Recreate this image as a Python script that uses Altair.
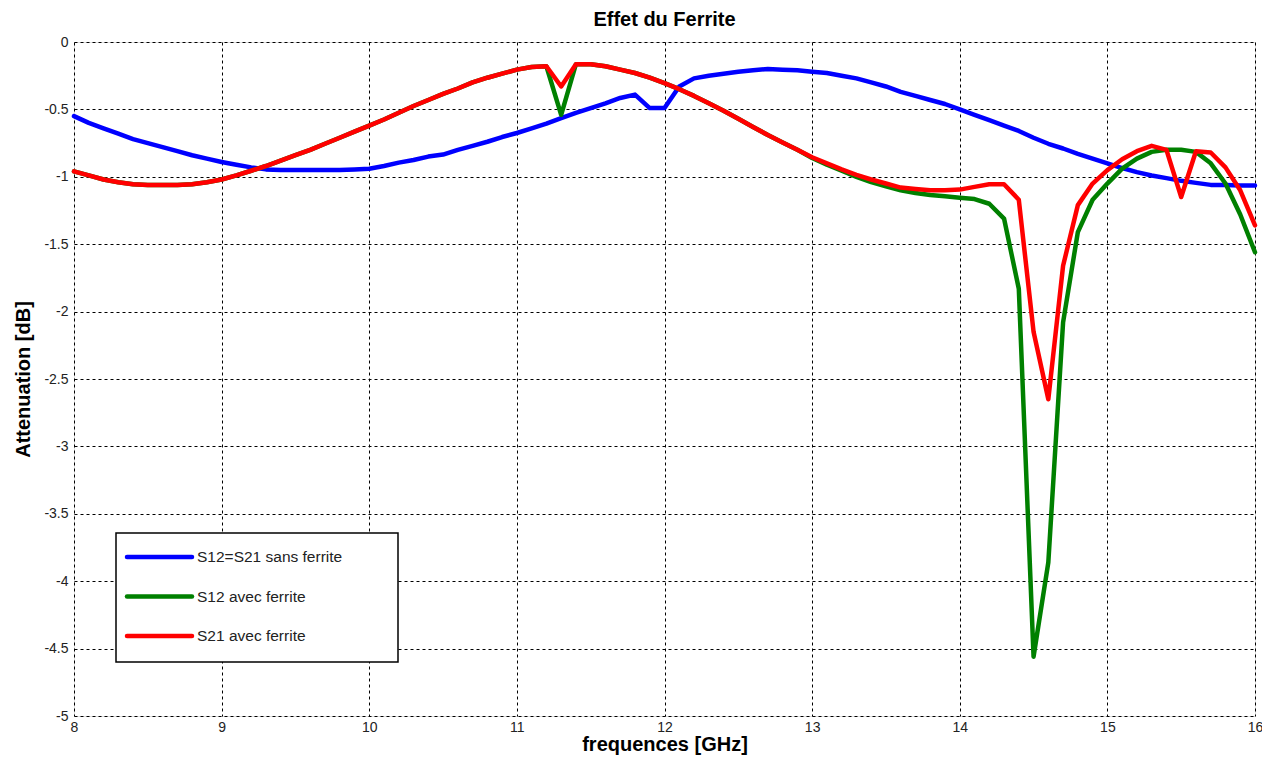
import altair as alt
import pandas as pd

freq = [round(8 + 0.1 * i, 1) for i in range(81)]

s_sans = [-0.55, -0.60, -0.64, -0.68, -0.72, -0.75, -0.78, -0.81, -0.84, -0.865,
          -0.89, -0.91, -0.93, -0.945, -0.95, -0.95, -0.95, -0.95, -0.95, -0.945,
          -0.94, -0.92, -0.895, -0.875, -0.85, -0.835, -0.80, -0.77, -0.74, -0.705,
          -0.675, -0.64, -0.605, -0.565, -0.525, -0.49, -0.455, -0.415, -0.39, -0.49,
          -0.49, -0.33, -0.27, -0.25, -0.235, -0.22, -0.21, -0.20, -0.205, -0.21,
          -0.22, -0.23, -0.25, -0.27, -0.30, -0.33, -0.37, -0.40, -0.43, -0.46,
          -0.50, -0.54, -0.58, -0.62, -0.66, -0.71, -0.755, -0.79, -0.83, -0.865,
          -0.90, -0.935, -0.965, -0.99, -1.01, -1.03, -1.045, -1.06, -1.06, -1.065,
          -1.065]

s12_avec = [-0.96, -0.99, -1.02, -1.04, -1.055, -1.06, -1.06, -1.06, -1.055, -1.04,
            -1.02, -0.99, -0.955, -0.92, -0.88, -0.84, -0.80, -0.755, -0.71, -0.665,
            -0.62, -0.575, -0.525, -0.475, -0.43, -0.385, -0.345, -0.30, -0.265, -0.235,
            -0.205, -0.185, -0.18, -0.54, -0.165, -0.165, -0.18, -0.205, -0.23, -0.265,
            -0.305, -0.35, -0.40, -0.455, -0.51, -0.57, -0.63, -0.69, -0.745, -0.80,
            -0.86, -0.91, -0.955, -1.00, -1.04, -1.07, -1.10, -1.12, -1.135, -1.145,
            -1.155, -1.165, -1.20, -1.31, -1.83, -4.56, -3.86, -2.08, -1.41, -1.17,
            -1.05, -0.94, -0.865, -0.815, -0.80, -0.80, -0.815, -0.90, -1.05, -1.28,
            -1.56]

s21_avec = [-0.96, -0.99, -1.02, -1.04, -1.055, -1.06, -1.06, -1.06, -1.055, -1.04,
            -1.02, -0.99, -0.955, -0.92, -0.88, -0.84, -0.80, -0.755, -0.71, -0.665,
            -0.62, -0.575, -0.525, -0.475, -0.43, -0.385, -0.345, -0.30, -0.265, -0.235,
            -0.205, -0.185, -0.18, -0.33, -0.165, -0.165, -0.18, -0.205, -0.23, -0.265,
            -0.305, -0.35, -0.40, -0.455, -0.51, -0.57, -0.63, -0.69, -0.745, -0.80,
            -0.855, -0.90, -0.945, -0.985, -1.02, -1.05, -1.08, -1.09, -1.10, -1.10,
            -1.095, -1.075, -1.055, -1.055, -1.17, -2.15, -2.65, -1.66, -1.21, -1.05,
            -0.95, -0.87, -0.81, -0.77, -0.80, -1.15, -0.81, -0.82, -0.93, -1.10,
            -1.36]

series_names = ["S12=S21 sans ferrite", "S12 avec ferrite", "S21 avec ferrite"]
series_colors = ["#0000FF", "#008000", "#FF0000"]
x_ticks = [8, 9, 10, 11, 12, 13, 14, 15, 16]
y_ticks = [0, -0.5, -1, -1.5, -2, -2.5, -3, -3.5, -4, -4.5, -5]

rows = []
for k, (name, vals) in enumerate(zip(series_names, [s_sans, s12_avec, s21_avec])):
    for f, v in zip(freq, vals):
        rows.append({"freq": f, "att": v, "serie": name, "ordre": k})
df = pd.DataFrame(rows)

legend_df = pd.DataFrame({"serie": series_names, "i": list(range(len(series_names)))})
box_df = pd.DataFrame({"k": [0]})

FONT = "Arial, Liberation Sans, sans-serif"
color_scale = alt.Scale(domain=series_names, range=series_colors)

lines = alt.Chart(df).mark_line(strokeWidth=4.5, strokeJoin="round", strokeCap="round").encode(
    x=alt.X("freq:Q", title="frequences [GHz]",
            scale=alt.Scale(domain=[8, 16], nice=False, zero=False),
            axis=alt.Axis(values=x_ticks, labelExpr="'' + datum.value",
                          grid=True, gridColor="#000000", gridDash=[3, 3], gridOpacity=1,
                          gridWidth=1, ticks=False, domain=False, labelFlush=False,
                          labelFont=FONT, labelFontSize=14, labelColor="#222222",
                          labelPadding=4, titleFont=FONT, titleFontSize=20,
                          titleFontWeight="bold", titleColor="#000000", titlePadding=0)),
    y=alt.Y("att:Q", title="Attenuation [dB]",
            scale=alt.Scale(domain=[-5, 0], nice=False, zero=False),
            axis=alt.Axis(values=y_ticks, labelExpr="'' + datum.value",
                          grid=True, gridColor="#000000", gridDash=[3, 3], gridOpacity=1,
                          gridWidth=1, ticks=False, domain=False, labelFlush=False,
                          labelFont=FONT, labelFontSize=14, labelColor="#222222",
                          labelPadding=6, titleFont=FONT, titleFontSize=20,
                          titleFontWeight="bold", titleColor="#000000", titlePadding=10)),
    color=alt.Color("serie:N", scale=color_scale, legend=None),
    order=alt.Order("ordre:Q"),
    detail="serie:N",
)

# legend drawn inside the plot (box, line samples, labels)
leg_box = alt.Chart(box_df).mark_rect(fill="#FFFFFF", stroke="#000000", strokeWidth=1.5).encode(
    x=alt.value(42), x2=alt.value(324), y=alt.value(491), y2=alt.value(620)
)
leg_base = alt.Chart(legend_df).transform_calculate(
    ly="515 + 39.5 * datum.i"
)
leg_sym = leg_base.mark_rule(strokeWidth=4.5, strokeCap="round").encode(
    x=alt.value(53), x2=alt.value(118),
    y=alt.Y("ly:Q", scale=None),
    color=alt.Color("serie:N", scale=color_scale, legend=None),
)
leg_txt = leg_base.mark_text(align="left", baseline="middle", font=FONT, fontSize=15.5,
                             color="#222222").encode(
    x=alt.value(123),
    y=alt.Y("ly:Q", scale=None),
    text="serie:N",
)

chart = alt.layer(lines, leg_box, leg_sym, leg_txt).properties(
    width=1181, height=674,
    title=alt.TitleParams("Effet du Ferrite", font=FONT, fontSize=20, fontWeight="bold",
                          color="#000000", offset=5),
    padding={"left": 66, "top": 34, "right": 7, "bottom": 40},
    autosize=alt.AutoSizeParams(type="none"),
).configure_view(stroke="#000000", strokeWidth=1.5).configure(background="#FFFFFF")

chart.save("out.html", embed_options={"renderer": "svg", "actions": False})
